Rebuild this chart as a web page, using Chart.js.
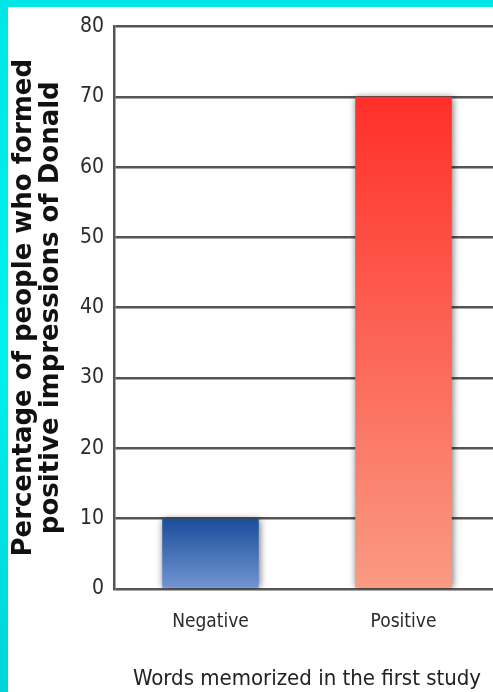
<!DOCTYPE html>
<html>
<head>
<meta charset="utf-8">
<script src="https://cdn.jsdelivr.net/npm/chart.js@4"></script>
<style>
    html, body { margin: 0; padding: 0; }
    body {
        width: 493px; height: 692px; overflow: hidden;
        background: linear-gradient(180deg, #00e6e6 0%, #00f0f0 50%, #00d4d8 100%);
        position: relative;
    }
    #wrap {
        position: absolute; left: 8px; top: 7px;
        width: 492px; height: 685px; background: #fff;
    }
</style>
</head>
<body>
<div id="wrap"><canvas id="barChart" width="492" height="685"></canvas></div>
<script>
// ============================================
// DATA
// ============================================
const categories = ['Negative', 'Positive'];
const percentages = [10, 70];
const yTicks = [0, 10, 20, 30, 40, 50, 60, 70, 80];
const yTitle = ['Percentage of people who formed', 'positive impressions of Donald'];
const xTitle = 'Words memorized in the first study';

// top colour, bottom colour for each bar
const barTop = ['#1a4d9c', '#ff2f2a'];
const barBottom = ['#7396d2', '#f99b82'];

const narrow = '"DejaVu Sans Condensed", "DejaVu Sans", sans-serif';

// ============================================
// PLUGINS
// ============================================
const barShadow = {
    id: 'barShadow',
    beforeDatasetDraw(chart) {
        const ctx = chart.ctx;
        ctx.save();
        ctx.shadowColor = 'rgba(0,0,0,0.55)';
        ctx.shadowBlur = 7;
        ctx.shadowOffsetX = 1;
        ctx.shadowOffsetY = 0;
    },
    afterDatasetDraw(chart) {
        chart.ctx.restore();
    }
};

function barGradient(context) {
    const chart = context.chart;
    if (!chart.chartArea) return barTop[context.dataIndex];
    const y = chart.scales.y;
    const top = y.getPixelForValue(percentages[context.dataIndex]);
    const bottom = y.getPixelForValue(0);
    const g = chart.ctx.createLinearGradient(0, top, 0, bottom);
    g.addColorStop(0, barTop[context.dataIndex]);
    g.addColorStop(1, barBottom[context.dataIndex]);
    return g;
}

// ============================================
// CHART
// ============================================
function drawChart() {
    const ctx = document.getElementById('barChart').getContext('2d');
    new Chart(ctx, {
        type: 'bar',
        data: {
            labels: categories,
            datasets: [{
                data: percentages,
                backgroundColor: barGradient,
                borderWidth: 0,
                barPercentage: 0.5,
                categoryPercentage: 1,
            }]
        },
        plugins: [barShadow],
        options: {
            responsive: false,
            animation: false,
            layout: { padding: { top: 0, right: 0, bottom: 0, left: 0 } },
            plugins: {
                legend: { display: false },
                tooltip: { enabled: false }
            },
            scales: {
                x: {
                    grid: { display: false, drawTicks: false },
                    border: { display: false },
                    ticks: {
                        color: '#2b2b2b',
                        font: { family: narrow, size: 19 },
                        padding: 22,
                    },
                    title: {
                        display: true,
                        text: xTitle,
                        color: '#222',
                        font: { family: narrow, size: 22 },
                        padding: { top: 16, bottom: 0 },
                    },
                    afterFit(scale) { scale.height = 103; }
                },
                y: {
                    min: 0,
                    max: 80,
                    afterBuildTicks(scale) { scale.ticks = yTicks.map(v => ({ value: v })); },
                    grid: { color: '#555', lineWidth: 2.5, drawTicks: false },
                    border: { display: true, color: '#555', width: 2.5 },
                    ticks: {
                        color: '#2b2b2b',
                        font: { family: narrow, size: 21, lineHeight: 0.9 },
                        padding: 10,
                    },
                    title: {
                        display: true,
                        text: yTitle,
                        color: '#111',
                        font: { family: '"DejaVu Sans", sans-serif', size: 26, weight: 'bold', lineHeight: 1.04 },
                        padding: { top: 3, bottom: 4 },
                    },
                    afterFit(scale) { scale.width = 106; }
                }
            }
        }
    });
}

Promise.all([
    document.fonts.load('21px "DejaVu Sans Condensed"'),
    document.fonts.load('bold 26px "DejaVu Sans"')
]).then(drawChart, drawChart);
</script>
</body>
</html>
